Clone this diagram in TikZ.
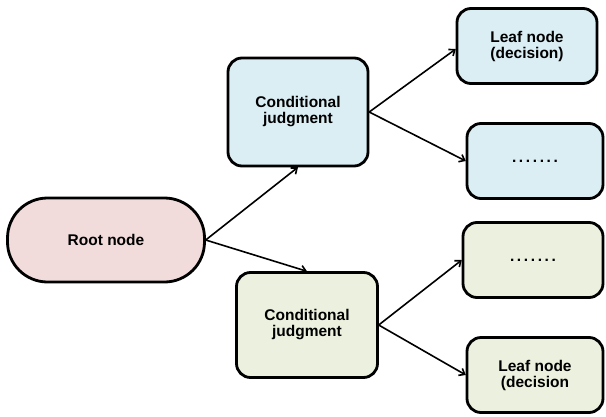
\documentclass[tikz,border=0pt]{standalone}
\usepackage{fontspec}
\setmainfont{Liberation Sans}
\usetikzlibrary{arrows.meta}

\definecolor{rootpink}{HTML}{F2DCDB}
\definecolor{judgeblue}{HTML}{DBEEF4}
\definecolor{judgegreen}{HTML}{EBF1DE}

\begin{document}
\begin{tikzpicture}[
  x=1pt,
  y=-1pt,
  box/.style={
    draw=black,
    line width=2.8pt,
    rounded corners=14pt,
    align=center,
    inner sep=0pt,
    outer sep=1.2pt,
    font=\bfseries\fontsize{15.5}{16}\selectfont,
  },
  dotsbox/.style={
    box,
    font=\bfseries\fontsize{15.5}{16}\selectfont\addfontfeature{LetterSpace=17},
  },
]
  \useasboundingbox (0, 0) rectangle (606, 416);

  % root of the tree
  \node[box, fill=rootpink, rounded corners=40pt,
    minimum width=197pt, minimum height=84pt] (root) at (106, 240) {Root node};

  % the two judgments
  \node[box, fill=judgeblue,
    minimum width=140pt, minimum height=108pt] (condA) at (298, 112)
    {Conditional\\judgment};
  \node[box, fill=judgegreen,
    minimum width=141pt, minimum height=105pt] (condB) at (307, 325)
    {Conditional\\judgment};

  % leaves
  \node[box, fill=judgeblue,
    minimum width=140pt, minimum height=75pt] (leafA) at (527, 46)
    {Leaf node\\(decision)};
  \node[dotsbox, fill=judgeblue,
    minimum width=136pt, minimum height=75pt] (dotsA) at (535, 161) {.......};
  \node[dotsbox, fill=judgegreen,
    minimum width=140pt, minimum height=75pt] (dotsB) at (533, 260) {.......};
  \node[box, fill=judgegreen,
    minimum width=136pt, minimum height=75pt] (leafB) at (535, 375)
    {Leaf node\\(decision};

  \coordinate (leafAin) at ([yshift=-3pt]leafA.west);

  \begin{scope}[
    >={Straight Barb[length=5pt, width=8pt]},
    line width=1.6pt,
  ]
    \foreach \from/\to in {
      root.east/condA.south,
      root.east/condB.north,
      condA.east/leafAin,
      condA.east/dotsA.west,
      condB.east/dotsB.west,
      condB.east/leafB.west%
    } {
      \draw[->] (\from) -- (\to);
    }
  \end{scope}
\end{tikzpicture}
\end{document}
